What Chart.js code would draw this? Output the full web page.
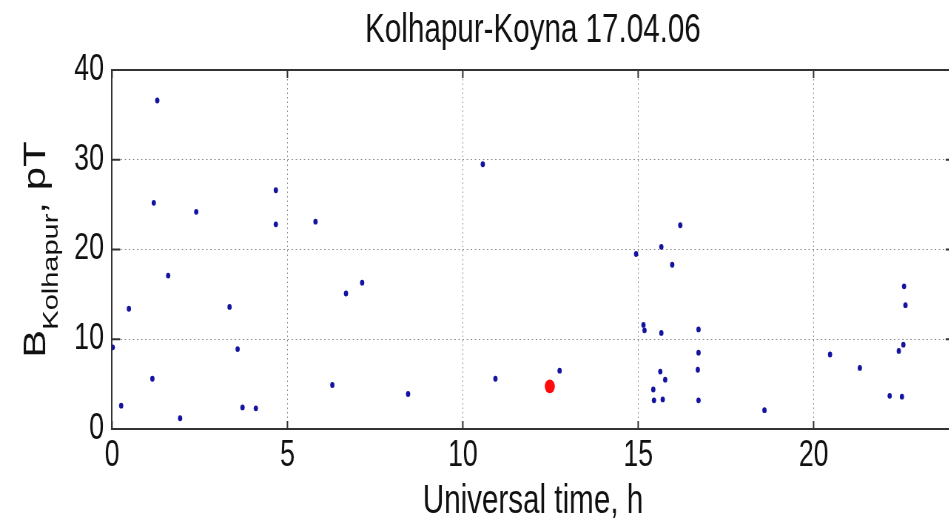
<!DOCTYPE html>
<html>
<head>
<meta charset="utf-8">
<script src="https://cdn.jsdelivr.net/npm/chart.js@4"></script>
<style>
  html, body { margin: 0; padding: 0; background: #fff; overflow: hidden; }
  #wrap { width: 949px; height: 526px; overflow: hidden; }
  /* the figure is drawn wide and squeezed horizontally, like the exported plot */
  #fig { display: block; transform: scaleX(0.74); transform-origin: 0 0; }
</style>
</head>
<body>
<div id="wrap"><canvas id="fig" width="1298" height="526"></canvas></div>
<script>
// field amplitude at Kolhapur vs universal time
const timeH = [
  0.02, 0.26, 0.48, 1.15, 1.19, 1.29, 1.60, 1.94, 2.40, 3.35,
  3.58, 3.72, 4.10, 4.67, 4.67, 5.80, 6.28, 6.67, 7.13, 8.44,
  10.57, 10.93, 12.76, 14.94, 15.15, 15.18, 15.43, 15.45, 15.63, 15.66,
  15.66, 15.70, 15.77, 15.97, 16.20, 16.70, 16.72, 16.72, 16.72, 18.60,
  20.47, 21.32, 22.17, 22.43, 22.52, 22.56, 22.58, 22.62
];
const bKolhapur = [
  9.1, 2.6, 13.4, 5.6, 25.2, 36.6, 17.1, 1.2, 24.2, 13.6,
  8.9, 2.4, 2.3, 26.6, 22.8, 23.1, 4.9, 15.1, 16.3, 3.9,
  29.5, 5.6, 6.5, 19.5, 11.6, 11.0, 4.4, 3.2, 6.4, 20.3,
  10.7, 3.3, 5.5, 18.3, 22.7, 6.6, 11.1, 8.5, 3.2, 2.1,
  8.3, 6.8, 3.7, 8.7, 3.6, 9.4, 15.9, 13.8
];
// the highlighted event
const eventTime = [12.48];
const eventB = [4.75];

const xTicks = [0, 5, 10, 15, 20];
const yTicks = [0, 10, 20, 30, 40];
const titleText = 'Kolhapur-Koyna 17.04.06';

const FONT = "'Liberation Sans', Arial, sans-serif";
const INK = '#111';

const toPoints = (xs, ys) => xs.map((x, i) => ({ x, y: ys[i] }));

// top/right border and inward tick marks, matlab style
const frame = {
  id: 'frame',
  afterDraw(chart) {
    const { ctx, chartArea: a, scales } = chart;
    ctx.save();
    ctx.strokeStyle = '#333';
    ctx.lineWidth = 2;
    ctx.beginPath();
    ctx.moveTo(a.left, a.top);
    ctx.lineTo(a.right, a.top);
    ctx.moveTo(a.right, a.top);
    ctx.lineTo(a.right, a.bottom);
    xTicks.forEach(v => {
      const px = scales.x.getPixelForValue(v);
      ctx.moveTo(px, a.bottom);
      ctx.lineTo(px, a.bottom - 8);
      ctx.moveTo(px, a.top);
      ctx.lineTo(px, a.top + 8);
    });
    yTicks.forEach(v => {
      const py = scales.y.getPixelForValue(v);
      ctx.moveTo(a.left, py);
      ctx.lineTo(a.left + 11, py);
      ctx.moveTo(a.right, py);
      ctx.lineTo(a.right - 11, py);
    });
    ctx.stroke();
    ctx.restore();
  }
};

// title centred over the axes rather than the whole canvas
const axesTitle = {
  id: 'axesTitle',
  afterDraw(chart) {
    const { ctx, chartArea: a } = chart;
    ctx.save();
    ctx.fillStyle = INK;
    ctx.font = '40px ' + FONT;
    ctx.textAlign = 'center';
    ctx.textBaseline = 'middle';
    ctx.fillText(titleText, (a.left + a.right) / 2, 31);
    ctx.restore();
  }
};

// y title with subscript: B_Kolhapur, pT
const yLabel = {
  id: 'yLabel',
  afterDraw(chart) {
    const { ctx, chartArea: a } = chart;
    const big = '42px ' + FONT, small = '29px ' + FONT;
    ctx.save();
    ctx.translate(61, (a.top + a.bottom) / 2);
    ctx.rotate(-Math.PI / 2);
    ctx.fillStyle = INK;
    ctx.textBaseline = 'alphabetic';
    ctx.textAlign = 'left';
    ctx.font = big;
    const wB = ctx.measureText('B').width;
    const wT = ctx.measureText(', pT').width;
    ctx.font = small;
    const wK = ctx.measureText('Kolhapur').width;
    let x = -(wB + wK + wT) / 2;
    ctx.font = big;
    ctx.fillText('B', x, 0);
    x += wB;
    ctx.font = small;
    ctx.fillText('Kolhapur', x, 17);
    x += wK;
    ctx.font = big;
    ctx.fillText(', pT', x, 0);
    ctx.restore();
  }
};

new Chart(document.getElementById('fig'), {
  type: 'scatter',
  data: {
    datasets: [
      {
        data: toPoints(eventTime, eventB),
        backgroundColor: '#ff0a0a',
        borderWidth: 0,
        pointRadius: 6.8,
      },
      {
        data: toPoints(timeH, bKolhapur),
        backgroundColor: '#1414a0',
        borderWidth: 0,
        pointRadius: 2.9,
      },
    ],
  },
  options: {
    responsive: false,
    animation: false,
    devicePixelRatio: 1,
    layout: { padding: { left: 0, right: 9, top: 70, bottom: 0 } },
    plugins: {
      legend: { display: false },
      tooltip: { enabled: false },
      title: { display: false },
    },
    scales: {
      x: {
        type: 'linear',
        min: 0,
        max: 24,
        afterBuildTicks: s => { s.ticks = xTicks.map(v => ({ value: v })); },
        afterFit: s => { s.height = 97; },
        ticks: { color: INK, font: { family: FONT, size: 36 }, padding: 5, maxRotation: 0 },
        grid: { color: '#8c8c8c', lineWidth: 1, drawTicks: false },
        border: { color: '#333', width: 2, dash: [1.5, 3] },
        title: {
          display: true,
          text: 'Universal time, h',
          color: INK,
          font: { family: FONT, size: 40 },
          padding: { top: 0, bottom: 0 },
        },
      },
      y: {
        type: 'linear',
        min: 0,
        max: 40,
        afterBuildTicks: s => { s.ticks = yTicks.map(v => ({ value: v })); },
        afterFit: s => { s.width = 151.4; },
        ticks: { color: INK, font: { family: FONT, size: 36 }, padding: 11 },
        grid: { color: '#8c8c8c', lineWidth: 1, drawTicks: false },
        border: { color: '#333', width: 2, dash: [2, 3.5] },
      },
    },
  },
  plugins: [frame, axesTitle, yLabel],
});
</script>
</body>
</html>
